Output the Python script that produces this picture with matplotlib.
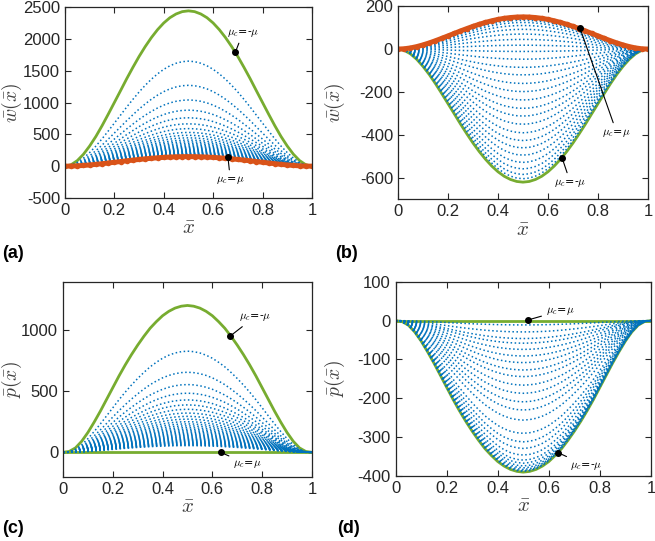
import numpy as np
import matplotlib
matplotlib.use('Agg')
import matplotlib.pyplot as plt

plt.rcParams['font.family'] = 'Liberation Sans'
plt.rcParams['mathtext.fontset'] = 'cm'
plt.rcParams['axes.unicode_minus'] = False

BLUE = '#0072BD'
ORANGE = '#D95319'
GREEN = '#77AC30'

# half of the span, the curves are symmetric about x = 0.5
x_half = [0.0, 0.025, 0.05, 0.075, 0.1, 0.125, 0.15, 0.175, 0.2, 0.225, 0.25,
          0.275, 0.3, 0.325, 0.35, 0.375, 0.4, 0.425, 0.45, 0.475, 0.5]
# normalised profiles
w_shape_half = [0.0, 0.0095, 0.036, 0.077, 0.130, 0.191, 0.260, 0.334, 0.410, 0.486, 0.563,
                0.636, 0.706, 0.770, 0.828, 0.879, 0.922, 0.956, 0.980, 0.995, 1.0]
p_shape_half = [0.0, 0.006, 0.03, 0.075, 0.135, 0.205, 0.28, 0.36, 0.44, 0.52, 0.595,
                0.665, 0.73, 0.79, 0.845, 0.89, 0.93, 0.96, 0.982, 0.995, 1.0]

# peak values at x = 0.5
a_green = [2440]
a_orange = 150
a_dotted = [1650, 1270, 1040, 880, 760, 665, 590, 530, 485, 445, 410, 382, 357, 335,
            315, 298, 283, 269, 257, 246, 235, 226, 217, 209, 201, 194, 188, 182, 176,
            171, 166, 161, 157, 153]

b_green = [-620]
b_orange = 150
b_dotted = [146, 141, 134, 124, 110, 92, 70, 45, 18, -11, -47, -85, -120, -160, -198,
            -237, -276, -312, -350, -390, -426, -460, -494, -528, -558, -584, -604]

c_green = [1205, 0]
c_dotted = [830, 657, 556, 485, 430, 389, 353, 322, 295, 272, 251, 233, 217, 202, 189,
            177, 166, 155, 145, 136, 127, 119, 111, 104, 97, 90, 84, 78, 72, 66, 60, 55]

d_green = [0, -390]
d_dotted = [-11, -29, -46, -58, -74, -91, -108, -127, -144, -166, -187, -209, -230, -256,
            -290, -312, -329, -346, -359, -367, -374, -379, -383, -386, -388]

x = np.concatenate([x_half, 1 - np.array(x_half[-2::-1])])
w_shape = np.concatenate([w_shape_half, w_shape_half[-2::-1]])
p_shape = np.concatenate([p_shape_half, p_shape_half[-2::-1]])


def draw(ax, shape, dotted, green, orange=None):
    for g in green:
        ax.plot(x, g * shape, '-', color=GREEN, lw=2)
    for pk in dotted:
        ax.plot(x, pk * shape, ':', color=BLUE, lw=1.1)
    if orange is not None:
        ax.plot(x, orange * shape, '-o', color=ORANGE, lw=3.6, ms=4, mew=0)


def note(ax, text, dot, pos):
    ax.annotate(text, xy=dot, xytext=pos, fontsize=8, ha='center', va='center',
                family='serif',
                arrowprops=dict(arrowstyle='-', color='k', lw=0.8, shrinkA=1, shrinkB=0))
    ax.plot(dot[0], dot[1], 'ko', ms=4)


def style(ax, ylim, yticks, ylabel, lx):
    ax.set_xlim(0, 1)
    ax.set_ylim(*ylim)
    ax.set_xticks([0, 0.2, 0.4, 0.6, 0.8, 1])
    ax.set_xticklabels(['0', '0.2', '0.4', '0.6', '0.8', '1'])
    ax.set_yticks(yticks)
    ax.tick_params(direction='in', top=True, right=True, labelsize=12, length=4,
                   colors='#262626', width=0.8)
    for s in ax.spines.values():
        s.set_color('#262626')
        s.set_linewidth(0.9)
    ax.set_xlabel(r'$\bar{x}$', fontsize=15, color='#404040', labelpad=1)
    ax.set_ylabel(ylabel, fontsize=14, color='#404040')
    ax.yaxis.set_label_coords(lx, 0.5)


fig = plt.figure(figsize=(6.55, 5.41), dpi=100)
ax1 = fig.add_axes([0.0992, 0.634, 0.377, 0.353])
ax2 = fig.add_axes([0.6076, 0.6316, 0.3817, 0.357])
ax3 = fig.add_axes([0.0962, 0.1189, 0.380, 0.3604])
ax4 = fig.add_axes([0.604, 0.1201, 0.3898, 0.359])

draw(ax1, w_shape, a_dotted, a_green, a_orange)
style(ax1, (-500, 2500), [-500, 0, 500, 1000, 1500, 2000, 2500], r'$\bar{w}(\bar{x})$', -0.165)
note(ax1, r'$\mu_c$=-$\mu$', (0.69, 1790), (0.72, 2090))
note(ax1, r'$\mu_c$=$\mu$', (0.66, 140), (0.67, -217))

draw(ax2, w_shape, b_dotted, b_green, b_orange)
style(ax2, (-700, 200), [-600, -400, -200, 0, 200], r'$\bar{w}(\bar{x})$', -0.204)
note(ax2, r'$\mu_c$=$\mu$', (0.728, 98), (0.875, -390))
note(ax2, r'$\mu_c$=-$\mu$', (0.657, -509), (0.69, -623))

draw(ax3, p_shape, c_dotted, c_green)
style(ax3, (-200, 1400), [0, 500, 1000], r'$\bar{p}(\bar{x})$', -0.158)
note(ax3, r'$\mu_c$=-$\mu$', (0.67, 951), (0.77, 1110))
note(ax3, r'$\mu_c$=$\mu$', (0.633, 0), (0.74, -95))

draw(ax4, p_shape, d_dotted, d_green)
style(ax4, (-400, 100), [-400, -300, -200, -100, 0, 100], r'$\bar{p}(\bar{x})$', -0.19)
note(ax4, r'$\mu_c$=$\mu$', (0.52, 2), (0.643, 25))
note(ax4, r'$\mu_c$=-$\mu$', (0.637, -340), (0.748, -374))

for lab, px, py in [('(a)', 0.003, 0.532), ('(b)', 0.511, 0.532),
                    ('(c)', 0.003, 0.024), ('(d)', 0.514, 0.024)]:
    fig.text(px, py, lab, fontsize=13, fontweight='bold', va='center', ha='left')

fig.savefig('out.png', dpi=100)
